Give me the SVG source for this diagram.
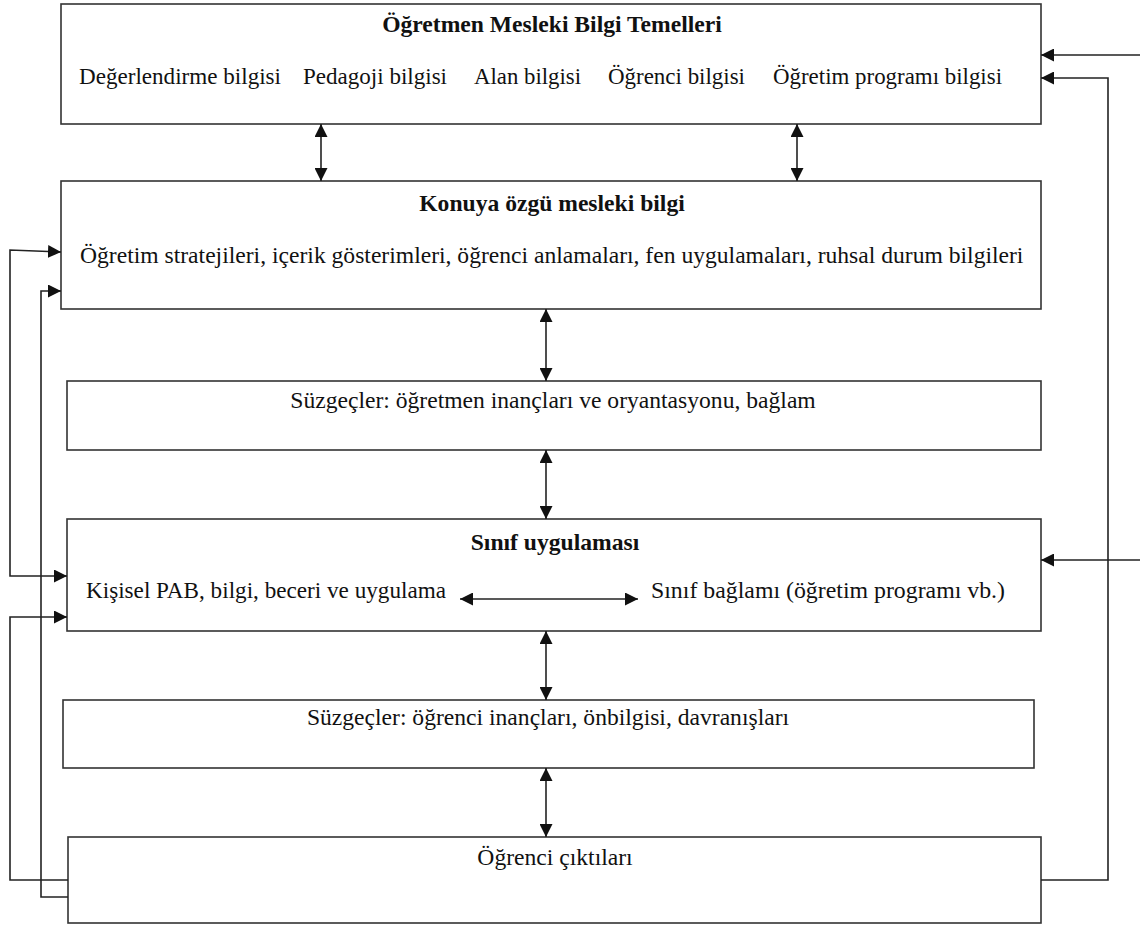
<svg xmlns="http://www.w3.org/2000/svg" width="1140" height="929" viewBox="0 0 1140 929">
  <style>
    .box { fill: #ffffff; stroke: #333333; stroke-width: 1.6; }
    .link { fill: none; stroke: #222222; stroke-width: 1.6; }
    .t { font-family: "Liberation Serif", "Times New Roman", serif; font-size: 23.6px; fill: #111111; }
    .b { font-weight: bold; }
    .c { text-anchor: middle; }
  </style>
  <defs>
    <marker id="head" viewBox="0 0 13 13" refX="13" refY="6.5" markerWidth="13" markerHeight="13" markerUnits="userSpaceOnUse" orient="auto-start-reverse">
      <path d="M0,0 L13,6.5 L0,13 z" fill="#111111"/>
    </marker>
  </defs>

  <rect width="1140" height="929" fill="#ffffff"/>

  <!-- Knowledge bases -->
  <g id="node-foundations">
    <rect class="box" x="61" y="4" width="980" height="120"/>
    <text class="t b c" x="552" y="32">Öğretmen Mesleki Bilgi Temelleri</text>
    <text class="t" x="79" y="84" textLength="202" lengthAdjust="spacingAndGlyphs">Değerlendirme bilgisi</text>
    <text class="t" x="303" y="84" textLength="144" lengthAdjust="spacingAndGlyphs">Pedagoji bilgisi</text>
    <text class="t" x="474" y="84" textLength="107" lengthAdjust="spacingAndGlyphs">Alan bilgisi</text>
    <text class="t" x="608" y="84" textLength="137" lengthAdjust="spacingAndGlyphs">Öğrenci bilgisi</text>
    <text class="t" x="773" y="84" textLength="229" lengthAdjust="spacingAndGlyphs">Öğretim programı bilgisi</text>
  </g>

  <g id="node-topic-specific">
    <rect class="box" x="61" y="181" width="980" height="128"/>
    <text class="t b c" x="552" y="211">Konuya özgü mesleki bilgi</text>
    <text class="t" x="80" y="263">Öğretim stratejileri, içerik gösterimleri, öğrenci anlamaları, fen uygulamaları, ruhsal durum bilgileri</text>
  </g>

  <g id="node-teacher-filters">
    <rect class="box" x="67" y="381" width="974" height="69"/>
    <text class="t c" x="553" y="408">Süzgeçler: öğretmen inançları ve oryantasyonu, bağlam</text>
  </g>

  <g id="node-classroom">
    <rect class="box" x="67" y="519" width="974" height="112"/>
    <text class="t b c" x="555" y="550">Sınıf uygulaması</text>
    <text class="t" x="86" y="598" textLength="360" lengthAdjust="spacingAndGlyphs">Kişisel PAB, bilgi, beceri ve uygulama</text>
    <text class="t" x="651" y="598" textLength="354" lengthAdjust="spacingAndGlyphs">Sınıf bağlamı (öğretim programı vb.)</text>
  </g>

  <g id="node-student-filters">
    <rect class="box" x="63" y="700" width="971" height="68"/>
    <text class="t c" x="548" y="725">Süzgeçler: öğrenci inançları, önbilgisi, davranışları</text>
  </g>

  <g id="node-outcomes">
    <rect class="box" x="68" y="837" width="973" height="86"/>
    <text class="t c" x="555" y="865">Öğrenci çıktıları</text>
  </g>

  <!-- Connectors -->
  <g id="connectors">
    <path class="link" d="M321,124 L321,181" marker-start="url(#head)" marker-end="url(#head)"/>
    <path class="link" d="M797,124 L797,181" marker-start="url(#head)" marker-end="url(#head)"/>
    <path class="link" d="M546,309 L546,381" marker-start="url(#head)" marker-end="url(#head)"/>
    <path class="link" d="M546,450 L546,519" marker-start="url(#head)" marker-end="url(#head)"/>
    <path class="link" d="M546,631 L546,700" marker-start="url(#head)" marker-end="url(#head)"/>
    <path class="link" d="M546,768 L546,837" marker-start="url(#head)" marker-end="url(#head)"/>
    <path class="link" d="M460,599 L638,599" marker-start="url(#head)" marker-end="url(#head)"/>

    <!-- left-side feedback loops -->
    <path class="link" d="M61,252 L10,250 L10,576 L67,576" marker-start="url(#head)" marker-end="url(#head)"/>
    <path class="link" d="M68,880 L10,880 L10,617 L67,617" marker-end="url(#head)"/>
    <path class="link" d="M68,897 L41,897 L41,291 L61,291" marker-end="url(#head)"/>

    <!-- right-side feedback loops -->
    <path class="link" d="M1140,55 L1041,55" marker-end="url(#head)"/>
    <path class="link" d="M1041,880 L1108,880 L1108,78 L1041,78" marker-end="url(#head)"/>
    <path class="link" d="M1140,560 L1041,560" marker-end="url(#head)"/>
  </g>
</svg>
